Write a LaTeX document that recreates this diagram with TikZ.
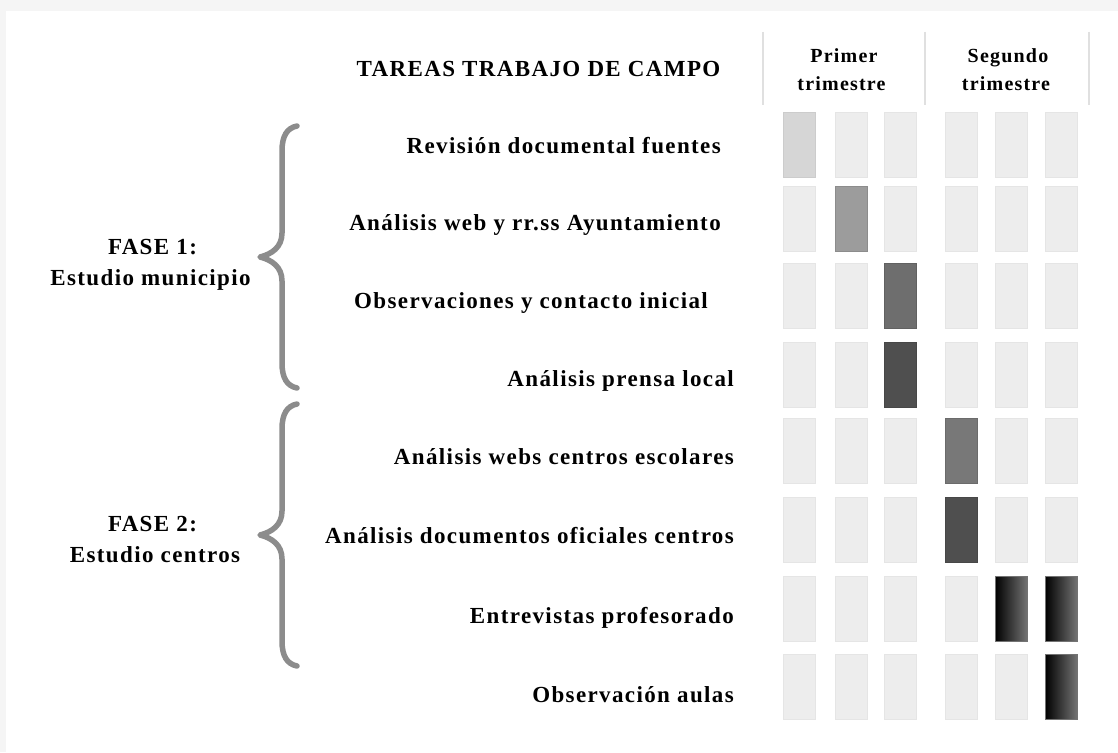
\documentclass[tikz,border=0pt]{standalone}
\usepackage{fontspec}
\setmainfont{Liberation Serif}[LetterSpace=6]
\usetikzlibrary{positioning}
\definecolor{bggray}{HTML}{F5F5F5}
\definecolor{bracegray}{HTML}{8C8C8C}
\definecolor{linegray}{HTML}{E0E0E0}
\tikzset{
  lbl/.style={inner sep=0pt, font=\fontsize{23}{27}\selectfont\bfseries},
  task/.style={lbl, anchor=base east},
  hdr/.style={inner sep=0pt, anchor=base, font=\fontsize{20}{24}\selectfont\bfseries},
  fase/.style={lbl, anchor=base},
  bar/.style={draw=black!10, line width=0.6pt, fill=black!7, minimum width=32pt, minimum height=65pt, inner sep=0pt},
  barA/.style={bar, fill=black!16, draw=black!20},
  barB/.style={bar, fill=black!39, draw=black!45},
  barC/.style={bar, fill=black!57, draw=black!62},
  barD/.style={bar, fill=black!69, draw=black!72},
  barE/.style={bar, fill=black!53, draw=black!58},
  barG/.style={bar, draw=black!55, left color=black, right color=black!55},
  sep/.style={draw=linegray, line width=1.1pt},
  brace/.style={draw=bracegray, line width=5.5pt, line cap=round, line join=round},
  bracepic/.pic={
    \path[brace] (37,-131) .. controls (27,-129) and (22,-121) .. (22,-106)
      -- (22,-24) .. controls (22,-10) and (12,-3) .. (0,0)
      .. controls (12,3) and (22,10) .. (22,24)
      -- (22,106) .. controls (22,121) and (27,129) .. (37,131);
  }
}
\begin{document}
\begin{tikzpicture}[x=1pt,y=-1pt]
\useasboundingbox (0,0) rectangle (1118,752);
\fill[bggray] (0,0) rectangle (1118,752);
\fill[white] (6,11) rectangle (1118,752);

% header
\node[lbl, anchor=base] (title) at (538.5,76) {TAREAS TRABAJO DE CAMPO};
\node[hdr] (h1a) at (844,63) {Primer};
\node[hdr] (h1b) at (841.5,90) {trimestre};
\node[hdr] (h2a) at (1008,63) {Segundo};
\node[hdr] (h2b) at (1006,90) {trimestre};
\coordinate (s1t) at (763,32); \coordinate (s1b) at (763,105);
\coordinate (s2t) at (925,32); \coordinate (s2b) at (925,105);
\coordinate (s3t) at (1089,32); \coordinate (s3b) at (1089,105);
\draw[sep] (s1t) -- (s1b);
\draw[sep] (s2t) -- (s2b);
\draw[sep] (s3t) -- (s3b);

% tasks
\node[task] (t1) at (721,153) {Revisión documental fuentes};
\node[task] (t2) at (721,230) {Análisis web y rr.ss Ayuntamiento};
\node[task] (t3) at (708,308) {Observaciones y contacto inicial};
\node[task] (t4) at (734,386) {Análisis prensa local};
\node[task] (t5) at (734,464) {Análisis webs centros escolares};
\node[task] (t6) at (734,543) {Análisis documentos oficiales centros};
\node[task] (t7) at (734,623) {Entrevistas profesorado};
\node[task] (t8) at (734,702) {Observación aulas};

% phases
\node[fase] (f1a) at (152.5,254) {FASE 1:};
\node[fase] (f1b) at (150.5,285) {Estudio municipio};
\node[fase] (f2a) at (152.5,531) {FASE 2:};
\node[fase] (f2b) at (155,562) {Estudio centros};
\pic at (260,257) {bracepic};
\pic at (260,535) {bracepic};

% bars
\foreach \r/\y in {1/144.5,2/218.5,3/295.5,4/374.5,5/450.5,6/529.5,7/608.5,8/686.5}{
  \foreach \c/\x in {1/799,2/851,3/900,4/961,5/1011,6/1061}{
    \node[bar] (b\r\c) at (\x,\y) {};
  }
}
\node[barA] (a11) at (b11) {};
\node[barB] (a22) at (b22) {};
\node[barC] (a33) at (b33) {};
\node[barD] (a43) at (b43) {};
\node[barE] (a54) at (b54) {};
\node[barD] (a64) at (b64) {};
\node[barG] (a75) at (b75) {};
\node[barG] (a76) at (b76) {};
\node[barG] (a86) at (b86) {};
\end{tikzpicture}
\end{document}
